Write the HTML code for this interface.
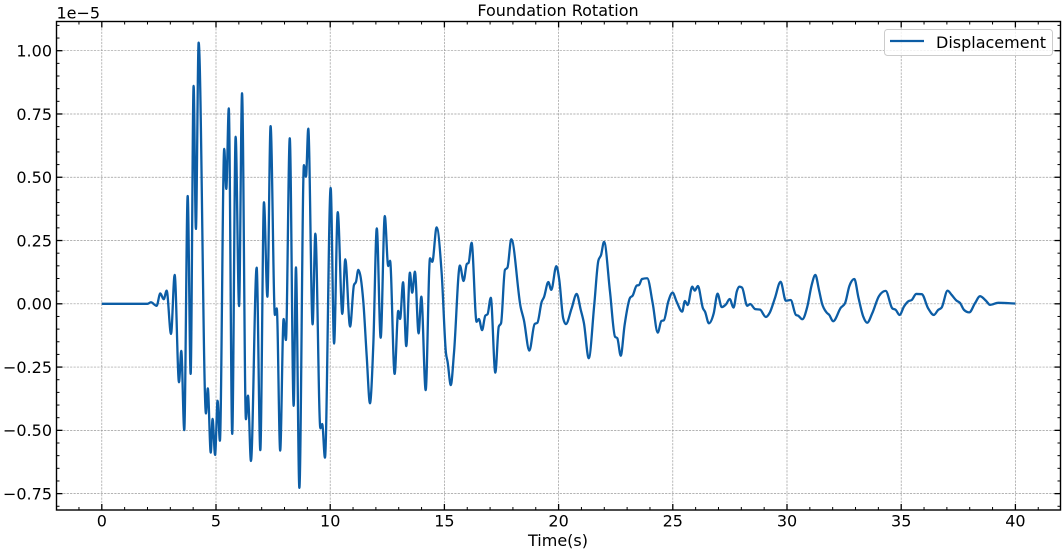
<!DOCTYPE html>
<html>
<head>
<meta charset="utf-8">
<title>Foundation Rotation</title>
<style>
html,body{margin:0;padding:0;background:#fff;}
svg{display:block;}
text{font-family:"DejaVu Sans","Liberation Sans",sans-serif;fill:#000;}
</style>
</head>
<body>
<svg id="chart" xmlns="http://www.w3.org/2000/svg" width="1063" height="551" viewBox="0 0 1063 551">
  <rect x="0" y="0" width="1063" height="551" fill="#fff"/>
  <g id="grid"></g>
  <path id="series" fill="none" stroke="#0C5DA5" stroke-width="2.3" stroke-linejoin="round" stroke-linecap="butt"/>
  <g id="ticks"></g>
  <g id="tick-labels"></g>
  <rect x="56.5" y="21.5" width="1004" height="488.5" fill="none" stroke="#000" stroke-width="1.4"/>
  <text x="558" y="16" font-size="16" text-anchor="middle">Foundation Rotation</text>
  <text x="558" y="546" font-size="16" text-anchor="middle">Time(s)</text>
  <text x="56.5" y="18.5" font-size="16">1e−5</text>
  <g>
    <rect x="884.5" y="29.5" width="168" height="26" rx="3" ry="3" fill="#fff" fill-opacity="0.8" stroke="#ccc" stroke-width="1"/>
    <line x1="890" y1="41" x2="924" y2="41" stroke="#0C5DA5" stroke-width="2.3"/>
    <text x="936" y="48" font-size="16">Displacement</text>
  </g>
</svg>
<script>
// Time in seconds
const times = [0,2.0,2.15,2.40,2.56,2.71,2.84,3.03,3.19,3.38,3.48,3.61,3.76,3.89,4.02,4.12,4.24,4.56,4.64,4.77,4.85,4.96,5.07,5.17,5.36,5.45,5.56,5.71,5.86,6.01,6.14,6.31,6.40,6.53,6.78,6.94,7.10,7.25,7.39,7.58,7.66,7.81,7.96,8.06,8.23,8.40,8.50,8.65,8.85,8.94,9.04,9.23,9.35,9.57,9.65,9.77,10.02,10.17,10.33,10.53,10.66,10.87,11.04,11.13,11.23,11.45,11.60,11.74,11.89,12.04,12.21,12.39,12.54,12.62,12.82,12.98,13.06,13.19,13.33,13.49,13.59,13.71,13.87,13.99,14.18,14.37,14.47,14.66,14.88,15.07,15.14,15.28,15.42,15.68,15.84,15.98,16.06,16.19,16.41,16.51,16.65,16.79,16.89,17.03,17.23,17.38,17.48,17.65,17.76,17.93,18.34,18.48,18.72,18.95,19.07,19.26,19.36,19.55,19.68,19.90,20.03,20.20,20.32,20.57,20.79,20.97,21.11,21.32,21.56,21.74,21.86,21.99,22.25,22.47,22.57,22.72,22.89,23.13,23.24,23.42,23.52,23.65,23.88,24.12,24.34,24.50,24.61,24.80,24.99,25.17,25.41,25.53,25.65,25.85,25.96,26.10,26.32,26.41,26.58,26.79,26.96,27.14,27.33,27.49,27.66,27.80,27.91,28.03,28.26,28.39,28.61,28.82,29.07,29.25,29.47,29.72,29.95,30.16,30.39,30.49,30.67,30.89,31.08,31.24,31.40,31.53,31.74,31.85,32.02,32.36,32.54,32.73,32.95,33.12,33.34,33.51,33.73,34.03,34.32,34.61,34.76,34.93,35.12,35.31,35.46,35.66,35.90,36.18,36.43,36.62,36.77,37.03,37.21,37.43,37.57,37.75,37.98,38.23,38.45,38.71,38.89,39.25,40.00];
// Displacement in units of 1e-5
const displacement = [0,0,0.006,-0.008,0.041,0.018,0.052,-0.119,0.114,-0.310,-0.186,-0.499,0.426,-0.277,0.861,0.296,1.032,-0.433,-0.334,-0.588,-0.455,-0.597,-0.383,-0.541,0.612,0.454,0.772,-0.514,0.660,-0.009,0.832,-0.456,-0.363,-0.621,0.143,-0.578,0.401,0.028,0.702,-0.044,-0.018,-0.580,-0.060,-0.143,0.654,-0.403,0.144,-0.727,0.548,0.502,0.692,-0.081,0.277,-0.492,-0.475,-0.608,0.458,-0.157,0.362,-0.040,0.176,-0.090,0.074,0.087,0.134,0.008,-0.209,-0.393,-0.155,0.298,-0.134,0.347,0.149,0.170,-0.277,-0.028,-0.060,0.085,-0.167,0.123,0.044,0.127,-0.117,0.028,-0.341,0.180,0.166,0.302,0.121,-0.196,-0.229,-0.321,-0.194,0.151,0.090,0.157,0.162,0.241,-0.071,-0.060,-0.104,-0.047,-0.041,0.024,-0.272,-0.090,-0.077,0.134,0.143,0.255,-0.014,-0.064,-0.185,-0.080,-0.075,0.008,0.026,0.086,0.055,0.149,0.094,-0.057,-0.080,-0.018,0.039,-0.024,-0.077,-0.215,-0.005,0.170,0.193,0.245,0.048,-0.130,-0.136,-0.205,-0.084,0.024,0.032,0.072,0.074,0.098,0.101,0.002,-0.114,-0.068,-0.065,0.008,0.044,0.008,-0.031,0.011,-0.005,0.068,0.052,0.070,-0.018,-0.031,-0.077,-0.038,0.040,-0.013,-0.002,0.019,-0.015,0.048,0.068,0.064,-0.008,-0.001,-0.021,-0.023,-0.052,-0.034,0.022,0.087,0.012,0.015,-0.044,-0.047,-0.061,-0.011,0.074,0.114,0.055,0.002,-0.035,-0.044,-0.069,-0.015,0.002,0.070,0.098,0.028,-0.051,-0.075,-0.038,0.031,0.051,-0.018,-0.024,-0.044,-0.011,0.010,0.015,0.039,0.038,-0.018,-0.044,-0.024,-0.015,0.052,0.035,0.012,0.004,-0.024,-0.034,0.002,0.030,0.012,-0.004,0.004,0.001];
// Tick labels and values
const xTickValues = [0,5,10,15,20,25,30,35,40];
const xTickLabels = ["0","5","10","15","20","25","30","35","40"];
const yTickValues = [1,0.75,0.5,0.25,0,-0.25,-0.5,-0.75];
const yTickLabels = ["1.00","0.75","0.50","0.25","0.00","−0.25","−0.50","−0.75"];
const xMinorValues = [-2,-1,1,2,3,4,6,7,8,9,11,12,13,14,16,17,18,19,21,22,23,24,26,27,28,29,31,32,33,34,36,37,38,39,41,42];
const yMinorValues = [1.1,1.05,0.95,0.9,0.85,0.8,0.7,0.65,0.6,0.55,0.45,0.4,0.35,0.3,0.2,0.15,0.1,0.05,-0.05,-0.1,-0.15,-0.2,-0.3,-0.35,-0.4,-0.45,-0.55,-0.6,-0.65,-0.7,-0.8];

const plotLeft = 56.5, plotRight = 1060.5, plotTop = 21.5, plotBottom = 510;
function xScale(t){ return 101.8 + t * 22.84; }
function yScale(v){ return 303.8 - v * 253.1; }
const NS = "http://www.w3.org/2000/svg";

function seg(parent, x1, y1, x2, y2, color, width, dash){
  const l = document.createElementNS(NS, "line");
  l.setAttribute("x1", x1);
  l.setAttribute("y1", y1);
  l.setAttribute("x2", x2);
  l.setAttribute("y2", y2);
  l.setAttribute("stroke", color);
  l.setAttribute("stroke-width", width);
  if (dash) l.setAttribute("stroke-dasharray", dash);
  parent.appendChild(l);
  return l;
}
function label(parent, x, y, str, anchor){
  const t = document.createElementNS(NS, "text");
  t.setAttribute("x", x);
  t.setAttribute("y", y);
  t.setAttribute("font-size", "16");
  t.setAttribute("text-anchor", anchor);
  t.textContent = str;
  parent.appendChild(t);
  return t;
}

const gridG = document.getElementById("grid");
const tickG = document.getElementById("ticks");
const labelG = document.getElementById("tick-labels");

xTickValues.forEach(function(v, i){
  const x = xScale(v);
  const g = seg(gridG, x, plotTop, x, plotBottom, "#9a9a9a", 0.7, "2.2 1.2");
  
  
  const a = seg(tickG, x, plotBottom, x, plotBottom - 6, "#000", 1.3);
  
  
  const b = seg(tickG, x, plotTop, x, plotTop + 6, "#000", 1.3);
  
  
  const t = label(labelG, x, 526.5, xTickLabels[i], "middle");
  
  
});
yTickValues.forEach(function(v, i){
  const y = yScale(v);
  const g = seg(gridG, plotLeft, y, plotRight, y, "#9a9a9a", 0.7, "2.2 1.2");
  
  
  const a = seg(tickG, plotLeft, y, plotLeft + 6, y, "#000", 1.3);
  
  
  const b = seg(tickG, plotRight, y, plotRight - 6, y, "#000", 1.3);
  
  
  const t = label(labelG, 52, y + 5.8, yTickLabels[i], "end");
  
  
});
xMinorValues.forEach(function(v){
  const x = xScale(v);
  if (x < plotLeft || x > plotRight) return;
  const a = seg(tickG, x, plotBottom, x, plotBottom - 3, "#000", 1);
  
  
  const b = seg(tickG, x, plotTop, x, plotTop + 3, "#000", 1);
  
  
});
yMinorValues.forEach(function(v){
  const y = yScale(v);
  const a = seg(tickG, plotLeft, y, plotLeft + 3, y, "#000", 1);
  
  
  const b = seg(tickG, plotRight, y, plotRight - 3, y, "#000", 1);
  
  
});

// Monotone cubic path through the data points
function monotonePath(xs, ys){
  const n = xs.length, m = new Array(n), s = new Array(n - 1);
  for (let i = 0; i < n - 1; i++) s[i] = (ys[i + 1] - ys[i]) / (xs[i + 1] - xs[i]);
  m[0] = s[0]; m[n - 1] = s[n - 2];
  for (let i = 1; i < n - 1; i++){
    if (s[i - 1] * s[i] <= 0) { m[i] = 0; continue; }
    const h0 = xs[i] - xs[i - 1], h1 = xs[i + 1] - xs[i];
    const p = (s[i - 1] * h1 + s[i] * h0) / (h0 + h1);
    m[i] = Math.sign(s[i]) * Math.min(Math.abs(s[i - 1]), Math.abs(s[i]), 0.5 * Math.abs(p)) * 2;
  }
  let d = "M" + xs[0].toFixed(2) + " " + ys[0].toFixed(2);
  for (let i = 0; i < n - 1; i++){
    const h = (xs[i + 1] - xs[i]) / 3;
    d += "C" + (xs[i] + h).toFixed(2) + " " + (ys[i] + m[i] * h).toFixed(2) + " " +
         (xs[i + 1] - h).toFixed(2) + " " + (ys[i + 1] - m[i + 1] * h).toFixed(2) + " " +
         xs[i + 1].toFixed(2) + " " + ys[i + 1].toFixed(2);
  }
  return d;
}
document.getElementById("series").setAttribute("d", monotonePath(times.map(xScale), displacement.map(yScale)));
</script>
</body>
</html>
